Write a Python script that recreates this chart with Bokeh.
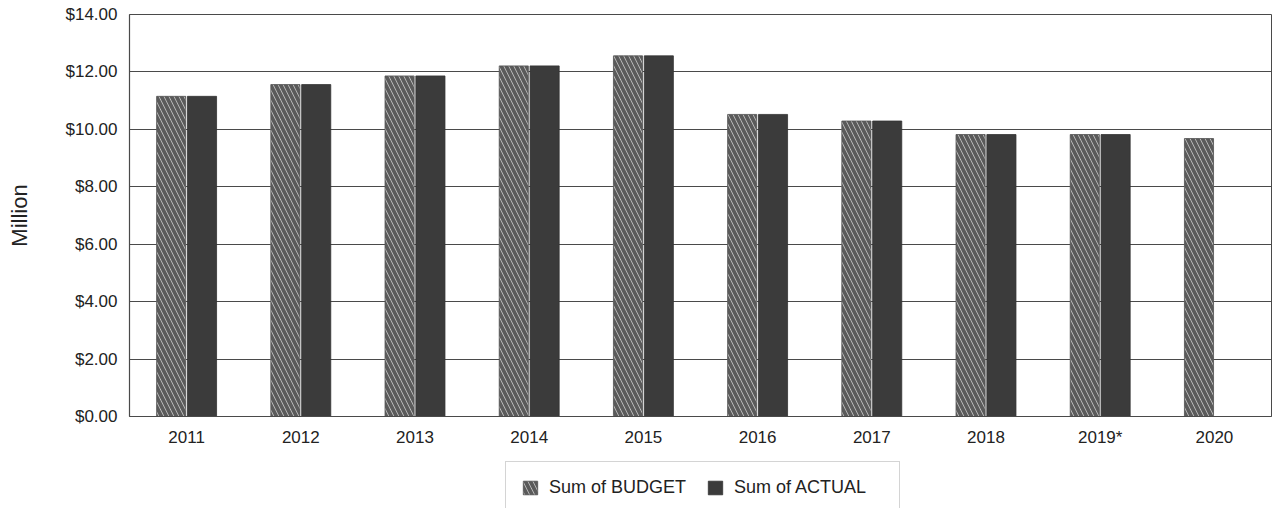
from bokeh.plotting import figure
from bokeh.layouts import column
from bokeh.models import ColumnDataSource, FactorRange, Range1d, FixedTicker, NumeralTickFormatter, Legend, LegendItem
from bokeh.transform import dodge
from bokeh.embed import file_html
from bokeh.resources import INLINE

years = ["2011", "2012", "2013", "2014", "2015", "2016", "2017", "2018", "2019*", "2020"]
budget = [11.15, 11.56, 11.86, 12.21, 12.56, 10.52, 10.29, 9.82, 9.82, 9.68]
actual = [11.15, 11.56, 11.86, 12.21, 12.56, 10.52, 10.29, 9.82, 9.82, float("nan")]
y_ticks = [0, 2, 4, 6, 8, 10, 12, 14]
series_labels = ["Sum of BUDGET", "Sum of ACTUAL"]

FONT = "Liberation Sans"
BUDGET_STYLE = dict(fill_color="#cfcfcf", line_color="#555555", line_width=0.8,
                    hatch_pattern="\\", hatch_color="#5a5a5a", hatch_scale=10, hatch_weight=3.8)
ACTUAL_STYLE = dict(fill_color="#3b3b3b", line_color="#333333", line_width=0.8)

src = ColumnDataSource(dict(years=years, budget=budget, actual=actual))

p = figure(width=1280, height=459, x_range=FactorRange(*years), y_range=Range1d(0, 14),
           output_backend="svg", toolbar_location=None,
           min_border_left=129, min_border_right=9, min_border_top=14, min_border_bottom=43)

rb = p.vbar(x=dodge("years", -0.135, range=p.x_range), top="budget", width=0.255, source=src, **BUDGET_STYLE)
ra = p.vbar(x=dodge("years", 0.135, range=p.x_range), top="actual", width=0.255, source=src, **ACTUAL_STYLE)

p.xgrid.grid_line_color = None
p.ygrid.grid_line_color = "#4a4a4a"
p.ygrid.grid_line_width = 1
p.ygrid.ticker = FixedTicker(ticks=y_ticks)
p.outline_line_color = "#4a4a4a"
p.outline_line_width = 1

p.yaxis.ticker = FixedTicker(ticks=y_ticks)
p.yaxis.formatter = NumeralTickFormatter(format="$0.00")
p.yaxis.axis_label = "Million"
p.yaxis.axis_label_text_font = FONT
p.yaxis.axis_label_text_font_size = "22px"
p.yaxis.axis_label_text_font_style = "normal"
p.yaxis.axis_label_text_color = "#222222"
p.yaxis.axis_label_standoff = 31

for ax in (p.xaxis[0], p.yaxis[0]):
    ax.major_label_text_font = FONT
    ax.major_label_text_font_size = "17px"
    ax.major_label_text_color = "#222222"
    ax.major_tick_in = 0
    ax.major_tick_out = 0
    ax.minor_tick_in = 0
    ax.minor_tick_out = 0
    ax.axis_line_color = "#4a4a4a"
    ax.axis_line_width = 1.2

p.yaxis.major_label_standoff = 12
p.xaxis.major_label_standoff = 11

p.background_fill_color = "white"
p.border_fill_color = "white"

# legend strip below the chart (its stand-in renderers have no drawable position)
q = figure(width=1280, height=49, x_range=Range1d(0, 1), y_range=Range1d(0, 1),
           x_axis_type=None, y_axis_type=None, output_backend="svg", toolbar_location=None,
           min_border=0)
q.grid.grid_line_color = None
q.outline_line_color = None
q.background_fill_color = "white"
q.border_fill_color = "white"
nan = float("nan")
lb = q.vbar(x=[nan], bottom=[nan], top=[nan], width=0.1, **BUDGET_STYLE)
la = q.vbar(x=[nan], bottom=[nan], top=[nan], width=0.1, **ACTUAL_STYLE)

legend = Legend(items=[LegendItem(label=series_labels[0], renderers=[lb]),
                       LegendItem(label=series_labels[1], renderers=[la])],
                location=(376, -6), orientation="horizontal",
                label_text_font=FONT, label_text_font_size="18px", label_text_color="#222222",
                glyph_width=18, glyph_height=17, label_height=17, label_width=150,
                label_standoff=10, spacing=7,
                padding=15, margin=0, border_line_color="#aaaaaa", border_line_width=1,
                background_fill_color="white", background_fill_alpha=1)
q.add_layout(legend, "center")

layout = column(p, q, spacing=0)
open("out.html", "w").write(file_html(layout, INLINE))
